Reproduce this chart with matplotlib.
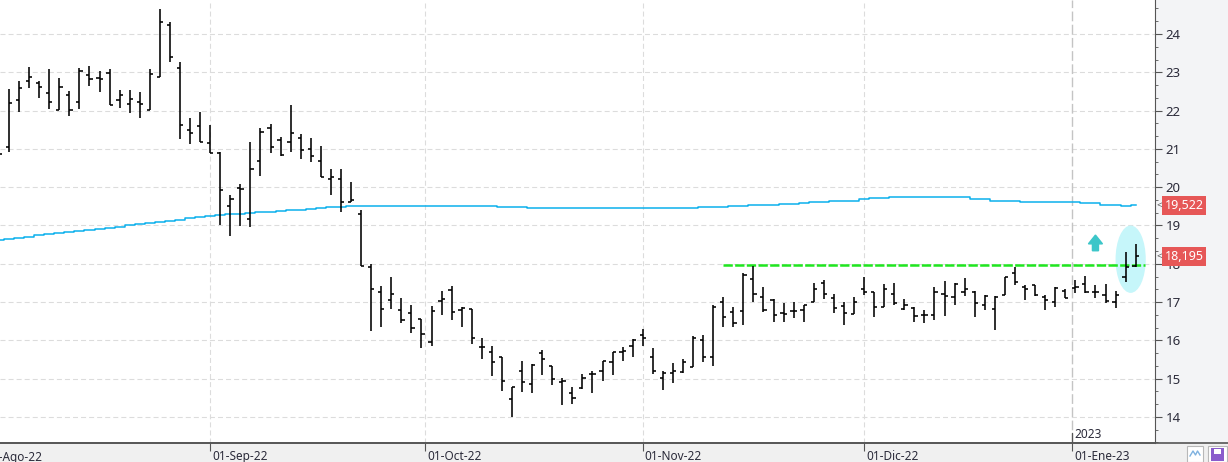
import matplotlib
matplotlib.use("Agg")
import matplotlib.pyplot as plt
from matplotlib.patches import Ellipse, FancyArrow, Rectangle
from matplotlib.ticker import MultipleLocator
from matplotlib.transforms import ScaledTranslation, blended_transform_factory

plt.rcParams['font.family'] = ['Noto Sans', 'DejaVu Sans']
plt.rcParams['lines.scale_dashes'] = False

# OHLC por sesion (indice 0 = primera barra parcialmente visible)
opens = [20.90, 21.05, 22.28, 22.77, 22.72, 22.46, 22.02, 22.41, 22.22, 22.93,
         22.85, 22.98, 22.28, 22.17, 22.22, 22.02, 22.88, 24.23, 23.11, 21.49,
         21.60, 21.15, 20.89, 19.51, 19.98, 19.17, 20.68, 21.55, 21.23, 21.18,
         21.28, 21.00, 20.68, 20.21, 20.21, 19.61, 19.30, 17.92, 17.26, 17.05,
         16.79, 16.71, 16.56, 15.95, 17.02, 17.32, 16.78, 16.82, 15.82, 15.69,
         15.57, 14.46, 15.21, 14.86, 15.66, 15.33, 14.90, 14.62, 14.75, 15.12,
         15.20, 15.44, 15.70, 15.85, 16.14, 15.57, 15.01, 15.14, 15.18, 15.30,
         16.01, 15.57, 17.01, 16.75, 16.76, 17.59, 17.12, 17.05, 16.71, 16.77,
         16.79, 17.00, 17.51, 17.10, 16.90, 16.69, 17.33, 17.27, 16.87, 17.21,
         16.81, 16.84, 16.66, 16.66, 17.21, 17.14, 17.27, 17.27, 16.92, 16.81,
         17.19, 17.75, 17.40, 17.45, 17.14, 16.99, 17.30, 17.36, 17.47, 17.27,
         17.19, 17.01, 17.66, 17.94]
highs = [21.00, 22.56, 22.77, 23.14, 22.77, 23.09, 22.85, 22.51, 23.11, 23.16,
         23.03, 23.09, 22.54, 22.54, 22.49, 23.09, 24.65, 24.31, 23.27, 21.81,
         21.96, 21.62, 20.92, 19.80, 20.08, 21.18, 21.55, 21.65, 21.31, 22.15,
         21.39, 21.28, 21.08, 20.47, 20.47, 20.14, 19.40, 18.00, 17.42, 17.65,
         17.10, 16.92, 16.56, 16.91, 17.29, 17.42, 16.86, 16.82, 16.05, 15.84,
         15.57, 14.79, 15.47, 15.38, 15.75, 15.33, 15.01, 14.79, 15.12, 15.21,
         15.46, 15.70, 15.82, 16.04, 16.30, 15.81, 15.20, 15.42, 15.51, 16.12,
         16.14, 16.92, 17.12, 16.86, 17.77, 17.95, 17.40, 17.07, 16.97, 17.01,
         16.92, 17.51, 17.58, 17.21, 17.01, 17.12, 17.65, 17.27, 17.46, 17.51,
         17.07, 16.86, 16.79, 17.40, 17.55, 17.49, 17.62, 17.29, 17.19, 17.16,
         17.66, 17.92, 17.45, 17.45, 17.19, 17.40, 17.33, 17.58, 17.68, 17.45,
         17.47, 17.30, 18.30, 18.51]
lows = [20.80, 20.92, 21.96, 22.59, 22.33, 22.04, 22.02, 21.86, 22.04, 22.64,
        22.49, 22.15, 22.07, 21.94, 21.81, 22.02, 22.88, 23.27, 21.26, 21.13,
        21.18, 20.89, 19.01, 18.73, 18.99, 18.96, 20.29, 20.89, 20.81, 20.92,
        20.74, 20.66, 20.27, 19.80, 19.35, 19.61, 17.95, 16.25, 16.36, 16.81,
        16.45, 16.19, 15.81, 15.84, 16.66, 16.53, 16.36, 15.91, 15.51, 15.07,
        14.69, 14.01, 14.66, 14.63, 15.10, 14.84, 14.30, 14.34, 14.72, 14.63,
        14.95, 15.10, 15.47, 15.57, 15.86, 15.11, 14.70, 14.88, 15.16, 15.30,
        15.44, 15.34, 16.36, 16.36, 16.40, 17.01, 16.73, 16.49, 16.49, 16.59,
        16.49, 17.00, 17.08, 16.72, 16.40, 16.69, 17.19, 16.62, 16.86, 16.92,
        16.78, 16.49, 16.45, 16.53, 16.64, 16.92, 17.16, 16.62, 16.79, 16.27,
        17.19, 17.45, 17.05, 17.16, 16.79, 16.86, 17.10, 17.23, 17.23, 17.10,
        16.97, 16.84, 17.53, 17.92]
closes = [20.87, 22.20, 22.59, 22.88, 22.62, 22.22, 22.62, 22.02, 23.03, 22.83,
          22.83, 22.15, 22.41, 22.30, 22.17, 22.96, 24.31, 23.40, 21.62, 21.41,
          21.18, 20.89, 19.93, 19.69, 19.95, 20.47, 21.44, 21.05, 20.84, 21.41,
          20.97, 20.81, 20.27, 20.27, 19.61, 19.67, 17.95, 17.34, 16.82, 17.20,
          16.53, 16.33, 16.16, 16.77, 17.08, 16.75, 16.84, 16.05, 15.82, 15.43,
          14.93, 14.79, 14.90, 15.36, 15.51, 14.98, 14.95, 14.49, 15.01, 15.12,
          15.46, 15.70, 15.73, 16.01, 16.05, 15.21, 15.14, 15.21, 15.44, 16.05,
          15.56, 16.88, 16.60, 16.45, 17.71, 17.21, 16.79, 16.66, 16.69, 16.77,
          16.92, 17.34, 17.21, 16.84, 16.71, 16.99, 17.25, 16.86, 17.33, 16.97,
          16.92, 16.64, 16.66, 17.27, 17.16, 17.47, 17.33, 16.97, 17.16, 17.14,
          17.66, 17.53, 17.33, 17.19, 17.05, 17.36, 17.10, 17.39, 17.27, 17.25,
          17.04, 17.19, 17.92, 18.195]

# media movil
ma = [18.62, 18.65, 18.68, 18.71, 18.74, 18.77, 18.80, 18.83, 18.85, 18.88,
      18.91, 18.94, 18.97, 19.00, 19.03, 19.06, 19.09, 19.12, 19.15, 19.19,
      19.22, 19.25, 19.27, 19.29, 19.31, 19.32, 19.34, 19.36, 19.38, 19.40,
      19.41, 19.43, 19.45, 19.47, 19.49, 19.51, 19.52, 19.52, 19.52, 19.52,
      19.52, 19.52, 19.52, 19.52, 19.52, 19.52, 19.52, 19.52, 19.52, 19.50,
      19.48, 19.47, 19.47, 19.46, 19.46, 19.45, 19.45, 19.45, 19.45, 19.45,
      19.45, 19.45, 19.45, 19.45, 19.45, 19.45, 19.45, 19.45, 19.45, 19.45,
      19.47, 19.48, 19.49, 19.51, 19.52, 19.53, 19.53, 19.54, 19.56, 19.56,
      19.60, 19.62, 19.62, 19.65, 19.65, 19.65, 19.69, 19.71, 19.71, 19.74,
      19.74, 19.74, 19.74, 19.74, 19.74, 19.74, 19.74, 19.69, 19.69, 19.65,
      19.65, 19.65, 19.62, 19.61, 19.61, 19.61, 19.61, 19.61, 19.58, 19.58,
      19.54, 19.54, 19.52, 19.522]

date_pos = [21, 42.35, 64, 86, 106.67]
date_labels = ['01-Sep-22', '01-Oct-22', '01-Nov-22', '01-Dic-22', '01-Ene-23']
first_label_pos = -1.3
first_label = '01-Ago-22'
top_label = 25

resistance = 17.98
res_start, res_end = 72, 113.9
last_price = 18.195
ma_last = 19.522

W, H = 1228, 462
fig = plt.figure(figsize=(W / 100, H / 100), dpi=100)
fig.patch.set_facecolor('#f0f0f0')
ax_right = 1155
ax_bottom = 443
ax = fig.add_axes([0, (H - ax_bottom) / H, ax_right / W, ax_bottom / H])
ax.set_facecolor('white')

# fondo del eje de precios
fig.patches.append(Rectangle((ax_right / W, (H - ax_bottom) / H), 1 - ax_right / W, ax_bottom / H,
                             transform=fig.transFigure, facecolor='#f3f4f6', edgecolor='none',
                             zorder=-5))

x = list(range(len(closes)))
ax.set_xlim(0.105, 114.92)
ax.set_ylim(13.32, 24.888)

# rejilla
for v in range(14, 25):
    ax.axhline(v, color='#dcdcdc', lw=0.8, ls=(0, (3.6, 2.2)), zorder=1)
for p in date_pos[:-1]:
    ax.axvline(p, color='#dcdcdc', lw=0.8, ls=(0, (3.6, 2.2)), zorder=1)
ax.axvline(date_pos[-1], color='#c4c4c4', lw=1.0, ls=(0, (7, 2.5)), zorder=1)
ax.axvline(date_pos[-1], ymin=0, ymax=10 / ax_bottom, color='#555555', lw=0.9, zorder=2)

# elipse y flecha
ax.add_patch(Ellipse((112.5, 18.12), 3.0, 1.76, facecolor='#c6f6fa', edgecolor='none', zorder=2))
ax.add_patch(FancyArrow(109, 18.34, 0, 0.41, width=0.6, head_width=1.4, head_length=0.23,
                        length_includes_head=True, color='#3cc6c9', zorder=3))

# media movil
ax.plot(x, ma, color='#0bb0ec', lw=1.1, drawstyle='steps-mid', zorder=3)

# resistencia
ax.hlines(resistance, res_start, res_end, color='#1fe61f', lw=1.8,
          linestyles=[(0, (6.7, 1.7))], zorder=4)

# barras OHLC
ax.vlines(x, lows, highs, color='black', lw=1.15, zorder=5)
ax.hlines(opens, [i - 0.32 for i in x], x, color='black', lw=1.15, zorder=5)
ax.hlines(closes, x, [i + 0.32 for i in x], color='black', lw=1.15, zorder=5)

# ejes
for s in ['top', 'left']:
    ax.spines[s].set_visible(False)
ax.spines['right'].set_color('#555555')
ax.spines['bottom'].set_color('#555555')
ax.spines['bottom'].set_linewidth(1.2)
ax.yaxis.tick_right()
ax.yaxis.set_major_locator(MultipleLocator(1))
ax.yaxis.set_minor_locator(MultipleLocator(1 / 3))
ax.tick_params(axis='y', which='major', direction='out', length=5, color='#555555',
               labelsize=9.5, labelcolor='#2b2b3a', pad=2.5)
ax.tick_params(axis='y', which='minor', direction='out', length=2.5, color='#555555')
ax.set_xticks(date_pos)
ax.set_xticklabels(date_labels, ha='left')
ax.tick_params(axis='x', direction='out', length=5.5, color='#555555', labelsize=8.5,
               labelcolor='#2b2b3a', pad=-0.5)
off = ScaledTranslation(1.5 / 72, 0, fig.dpi_scale_trans)
for lbl in ax.get_xticklabels():
    lbl.set_transform(lbl.get_transform() + off)

trans = blended_transform_factory(ax.transData, ax.transAxes)
ax.text(first_label_pos, -0.017, first_label, transform=trans, ha='left', va='top',
        fontsize=8.5, color='#2b2b3a', clip_on=False)
ax.text(date_pos[-1] + 0.2, 0.004, '2023', transform=trans, ha='left', va='bottom',
        fontsize=8.5, color='#2b2b3a', zorder=6)

# etiqueta 25 recortada arriba
ytr_ax = blended_transform_factory(ax.transAxes, ax.transData)
ax.text(1.0, top_label, str(top_label), transform=ytr_ax + ScaledTranslation(10.5 / 100, 0, fig.dpi_scale_trans),
        ha='left', va='center', fontsize=9.5, color='#2b2b3a', clip_on=False)

# linea inferior a todo el ancho
fig.add_artist(plt.Line2D([0, 1], [(H - ax_bottom) / H] * 2, transform=fig.transFigure,
                          color='#555555', lw=1.2))

# etiquetas de precio
ytr = blended_transform_factory(fig.transFigure, ax.transData)
for val in [ma_last, last_price]:
    txt = f'{val:.3f}'.replace('.', ',')
    ax.text(1184 / W, val, txt, transform=ytr, ha='center', va='center', fontsize=9,
            color='white', zorder=10,
            bbox=dict(boxstyle='square,pad=0.22', facecolor='#e65757', edgecolor='none'))
    ax.text(1156.5 / W, val, '<', transform=ytr, ha='left', va='center', fontsize=7,
            color='#555555', zorder=10)

# iconos inferiores
fig.patches.append(Rectangle((1187 / W, 0), 16 / W, 16 / H, transform=fig.transFigure,
                             facecolor='white', edgecolor='#b8b8b8', lw=0.8))
fig.add_artist(plt.Line2D([1190 / W, 1193 / W, 1195.5 / W, 1197.5 / W, 1200 / W],
                          [6 / H, 11 / H, 7 / H, 11 / H, 7 / H], transform=fig.transFigure,
                          color='#7fb2e0', lw=1.0))
fig.patches.append(Rectangle((1208 / W, 0), 19 / W, 16 / H, transform=fig.transFigure,
                             facecolor='white', edgecolor='#b8b8b8', lw=0.8))
fig.patches.append(Rectangle((1211 / W, 1 / H), 13 / W, 13 / H, transform=fig.transFigure,
                             facecolor='#8a5ccc', edgecolor='none'))
fig.patches.append(Rectangle((1214 / W, 8 / H), 7 / W, 5 / H, transform=fig.transFigure,
                             facecolor='white', edgecolor='none'))

fig.savefig('out.png', dpi=100, facecolor=fig.get_facecolor())
